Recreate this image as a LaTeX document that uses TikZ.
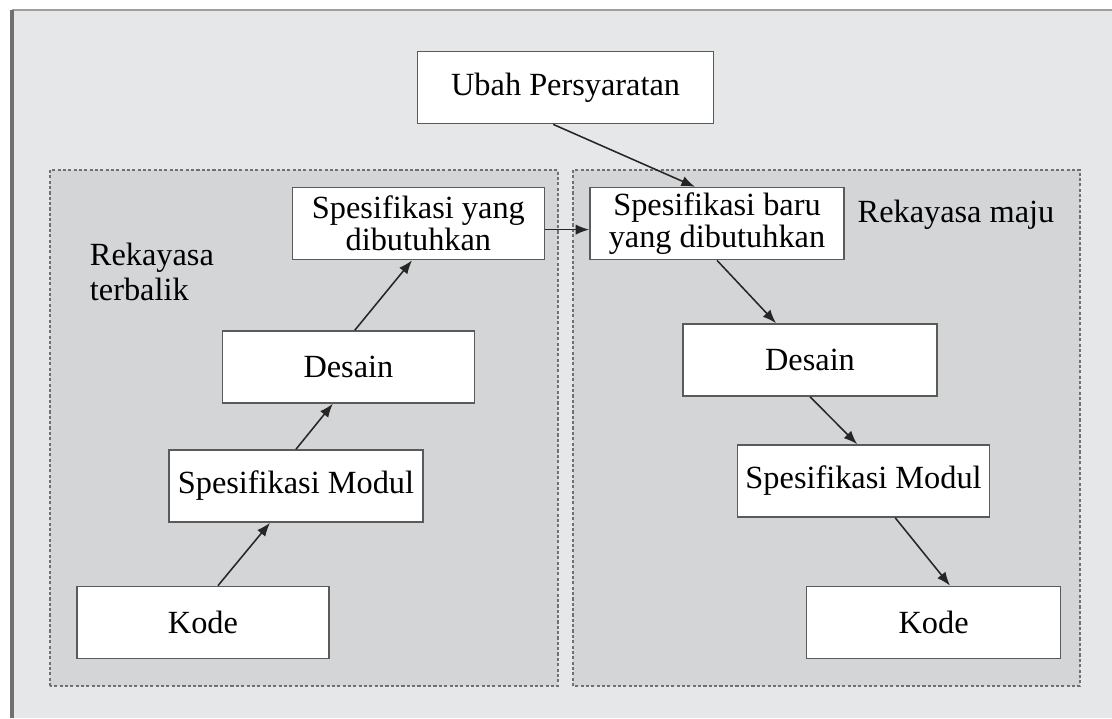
\documentclass[tikz,border=0pt]{standalone}
\usepackage{fontspec}
\setmainfont{Liberation Serif}
\usepackage{tikz}
\usetikzlibrary{arrows.meta, positioning, calc}
\usepackage{xcolor}
\definecolor{panelgray}{HTML}{E6E7E8}
\definecolor{areagray}{HTML}{D4D5D7}
\definecolor{framegray}{HTML}{9E9E9E}
\definecolor{edgegray}{HTML}{707070}
\definecolor{boxgray}{HTML}{5A5A5A}

\tikzset{
  blok/.style={draw=boxgray, fill=white, line width=1.1pt,
    minimum width=6.3cm, minimum height=1.8cm, align=center,
    inner sep=2pt, font=\fontsize{23}{23}\selectfont},
  wilayah/.style={draw=edgegray, fill=areagray, line width=1.2pt,
    dash pattern=on 2.2pt off 1.6pt},
  judul/.style={align=left, font=\fontsize{23}{25}\selectfont},
  panah/.style={-{Latex[length=3.4mm,width=2.6mm]}, line width=1.1pt,
    black!85}
}

\begin{document}
\begin{tikzpicture}
  \useasboundingbox (0,0) rectangle (27.8,17.95);

  % Panel
  \fill[panelgray] (0.3,0) rectangle (27.8,17.7);
  \draw[framegray, line width=2pt] (0.3,17.7) -- (27.8,17.7);
  \draw[edgegray, line width=3.5pt] (0.3,0) -- (0.3,17.7);

  % Areas
  \draw[wilayah] (1.25,0.8) rectangle (13.95,13.7);
  \draw[wilayah] (14.325,0.8) rectangle (27.0,13.7);

  \node[judul, anchor=west] (terbalik) at (2.125,11.15) {Rekayasa\\terbalik};
  \node[judul] (maju) at (23.9,12.575) {Rekayasa maju};

  % Boxes
  \node[blok, minimum width=7.4cm] (ubah) at (14.14,15.76) {Ubah Persyaratan};
  \node[blok] (spekyang) at (10.46,12.36) {Spesifikasi yang\\dibutuhkan};
  \node[blok, minimum width=6.35cm] (spekbaru) at (17.925,12.36)
    {Spesifikasi baru\\yang dibutuhkan};
  \node[blok] (desainkiri) at (8.71,8.775) {Desain};
  \node[blok, minimum width=6.35cm] (desainkanan) at (20.25,8.95) {Desain};
  \node[blok, minimum width=6.35cm] (modulkiri) at (7.4,5.8) {Spesifikasi Modul};
  \node[blok] (modulkanan) at (21.59,5.925) {Spesifikasi Modul};
  \node[blok] (kodekiri) at (5.075,2.39) {Kode};
  \node[blok, minimum width=6.35cm] (kodekanan) at (23.34,2.39) {Kode};

  % Arrows
  \draw[panah] ([xshift=-0.31cm]ubah.south) -- ([xshift=-0.55cm]spekbaru.north);
  \draw[panah] ([yshift=-0.15cm]spekyang.east) -- ([yshift=-0.15cm]spekbaru.west);
  \draw[panah] ([xshift=0.375cm]kodekiri.north) -- ([xshift=-0.65cm]modulkiri.south);
  \draw[panah] (modulkiri.north) -- ([xshift=-0.39cm]desainkiri.south);
  \draw[panah] ([xshift=0.16cm]desainkiri.north) -- ([xshift=-0.16cm]spekyang.south);
  \draw[panah] (spekbaru.south) -- ([xshift=-0.85cm]desainkanan.north);
  \draw[panah] (desainkanan.south) -- ([xshift=-0.16cm]modulkanan.north);
  \draw[panah] ([xshift=0.79cm]modulkanan.south) -- ([xshift=0.41cm]kodekanan.north);
\end{tikzpicture}
\end{document}
